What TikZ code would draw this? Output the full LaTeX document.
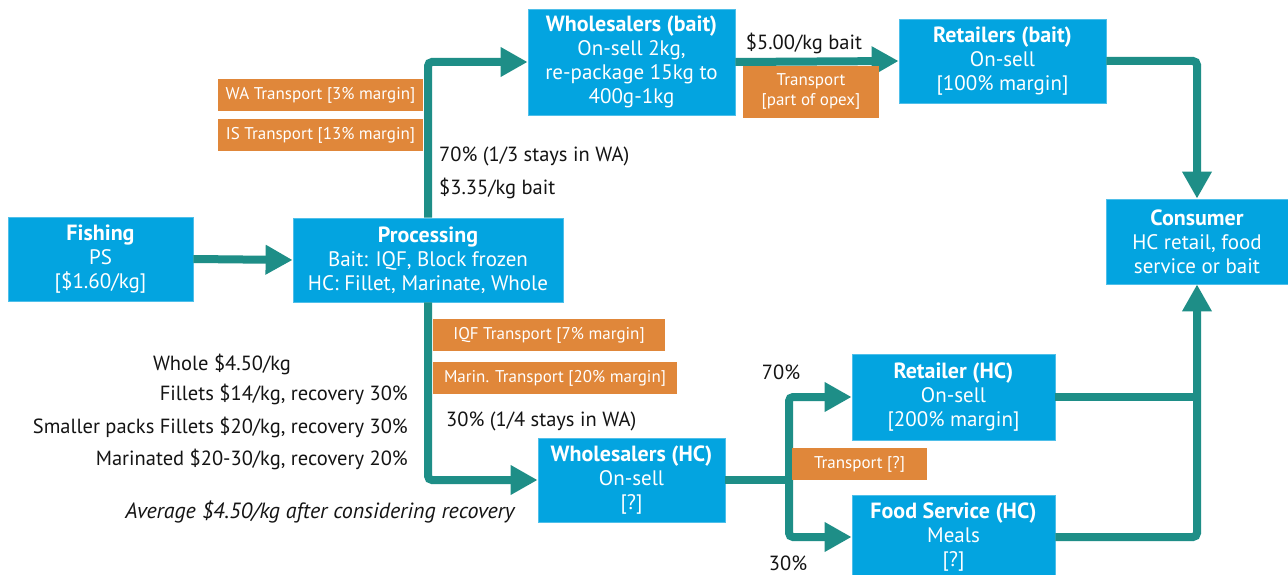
\documentclass[tikz,border=0pt]{standalone}
\usepackage{fontspec}
\setmainfont{PT Sans}
\usetikzlibrary{arrows.meta}
\definecolor{boxblue}{RGB}{3,164,224}
\definecolor{boxorange}{RGB}{224,135,58}
\definecolor{flowteal}{RGB}{30,142,135}
\definecolor{txt}{RGB}{20,20,20}
\newcommand{\hd}[1]{{\fontsize{22}{24}\selectfont\bfseries #1}}
\tikzset{
  bluebox/.style={fill=boxblue, draw=boxblue!70!white, line width=0.8pt, text=white, align=center, inner sep=0pt,
    font=\fontsize{21}{24}\selectfont},
  orangebox/.style={fill=boxorange, text=white, align=center, inner sep=0pt,
    font=\fontsize{17}{20}\selectfont},
  flow/.style={draw=flowteal, line width=8pt, rounded corners=4pt},
  flowarrow/.style={flow, -{Triangle[width=28pt,length=27pt]}},
  lbl/.style={text=txt, inner sep=0pt, font=\fontsize{20.5}{22}\selectfont},
}
\begin{document}
\begin{tikzpicture}[x=1pt,y=-1pt]
\useasboundingbox[fill=white] (0,0) rectangle (1288,575);
% blue boxes
\node[bluebox, minimum width=185pt, minimum height=84pt] (fish) at (100.5,259) {\hd{Fishing}\\PS\\{[}\$1.60/kg{]}};
\node[bluebox, minimum width=270pt, minimum height=84pt] (proc) at (428,260) {\hd{Processing}\\Bait: IQF, Block frozen\\HC: Fillet, Marinate, Whole};
\node[bluebox, minimum width=207pt, minimum height=106pt] (wsb) at (631.5,62) {\hd{Wholesalers (bait)}\\On-sell 2kg,\\re-package 15kg to\\400g-1kg};
\node[bluebox, minimum width=207pt, minimum height=84pt] (rtb) at (1002.5,61) {\hd{Retailers (bait)}\\On-sell\\{[}100\% margin{]}};
\node[bluebox, minimum width=182pt, minimum height=85pt] (cons) at (1197,241.5) {\hd{Consumer}\\HC retail, food\\service or bait};
\node[bluebox, minimum width=203pt, minimum height=86pt] (rthc) at (953.5,397) {\hd{Retailer (HC)}\\On-sell\\{[}200\% margin{]}};
\node[bluebox, minimum width=203pt, minimum height=84pt] (fshc) at (953.5,537) {\hd{Food Service (HC)}\\Meals\\{[}?{]}};
\node[bluebox, minimum width=187pt, minimum height=84pt] (wshc) at (631.5,480) {\hd{Wholesalers (HC)}\\On-sell\\{[}?{]}};
% connectors
\coordinate (split) at (789,480);
\draw[flowarrow] (fish.east) -- (proc.west);
\draw[flowarrow] (proc.north) |- (wsb.west);
\draw[flowarrow] (proc.south) |- (wshc.west);
\draw[flowarrow] (wsb.east) -- (rtb.west);
\draw[flowarrow] (rtb.east) -| (cons.north);
\draw[flow] (wshc.east) -- (split);
\draw[flowarrow] (split) |- (rthc.west);
\draw[flowarrow] (split) |- (fshc.west);
\draw[flow] (rthc.east) -- (rthc.east -| cons.south);
\draw[flowarrow] (fshc.east) -| (cons.south);
% orange boxes
\node[orangebox, minimum width=205pt, minimum height=32pt] (wat) at (320.5,95) {WA Transport {[}3\% margin{]}};
\node[orangebox, minimum width=205pt, minimum height=32pt] (ist) at (320.5,135) {IS Transport {[}13\% margin{]}};
\node[orangebox, minimum width=136pt, minimum height=52pt] (opex) at (811,92) {Transport\\{[}part of opex{]}};
\node[orangebox, minimum width=232pt, minimum height=32pt] (iqf) at (549,335) {IQF Transport {[}7\% margin{]}};
\node[orangebox, minimum width=244pt, minimum height=32pt] (marin) at (555,378) {Marin. Transport {[}20\% margin{]}};
\node[orangebox, minimum width=135pt, minimum height=32pt] (trq) at (859.5,464) {Transport {[}?{]}};
% labels
\node[lbl, anchor=west] (l70) at (439,156) {70\% (1/3 stays in WA)};
\node[lbl, anchor=west] (l335) at (439,188) {\$3.35/kg bait};
\node[lbl] (l500) at (804,43) {\$5.00/kg bait};
\node[lbl, anchor=west] (l30) at (446,421) {30\% (1/4 stays in WA)};
\node[lbl] (p70) at (781,372) {70\%};
\node[lbl] (p30) at (788,563) {30\%};
\node[lbl] (whole) at (222,364) {Whole \$4.50/kg};
\node[lbl, anchor=east] (fil) at (408,394) {Fillets \$14/kg, recovery 30\%};
\node[lbl, anchor=east] (small) at (408,427) {Smaller packs Fillets \$20/kg, recovery 30\%};
\node[lbl, anchor=east] (mar) at (408,459) {Marinated \$20-30/kg, recovery 20\%};
\node[lbl, font=\fontsize{22}{24}\selectfont\itshape] (avg) at (320,512) {Average \$4.50/kg after considering recovery};
\end{tikzpicture}
\end{document}
